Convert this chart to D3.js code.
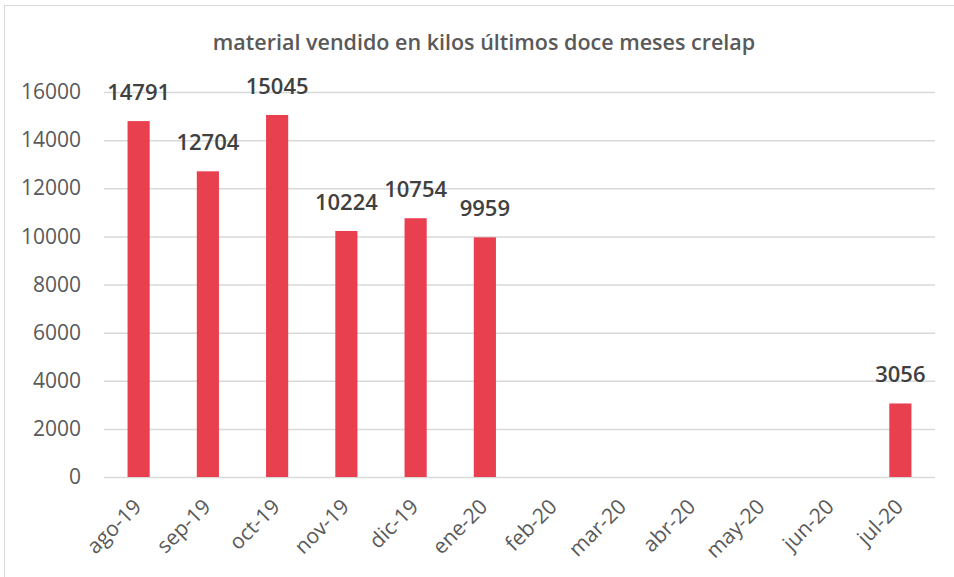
<!DOCTYPE html>
<html>
<head>
<meta charset="utf-8">
<script src="https://cdn.jsdelivr.net/npm/d3@7"></script>
<style>
  html, body { margin: 0; padding: 0; background: #fff; }
  svg { display: block; }
</style>
</head>
<body>
<script>
const title = "material vendido en kilos últimos doce meses crelap";
const categories = ["ago-19","sep-19","oct-19","nov-19","dic-19","ene-20","feb-20","mar-20","abr-20","may-20","jun-20","jul-20"];
const values = [14791, 12704, 15045, 10224, 10754, 9959, null, null, null, null, null, 3056];
const yTicks = [0, 2000, 4000, 6000, 8000, 10000, 12000, 14000, 16000];

const W = 954, H = 577;
const margin = {left: 104, right: 19, top: 92, bottom: 100};
const font = "'Open Sans', Lato, sans-serif";

const svg = d3.select("body").append("svg").attr("width", W).attr("height", H);

svg.append("rect").attr("x", 4.5).attr("y", 5.5).attr("width", W + 20).attr("height", H + 20)
  .attr("fill", "#fff").attr("stroke", "#d9d9d9").attr("stroke-width", 1);

const x = d3.scaleBand().domain(categories).range([margin.left, W - margin.right]).paddingInner(0.68).paddingOuter(0.34);
const y = d3.scaleLinear().domain([0, 16000]).range([H - margin.bottom, margin.top]);

// gridlines
const yAxis = d3.axisLeft(y).tickValues(yTicks).tickSize(-(W - margin.right - margin.left)).tickPadding(23).tickFormat(d3.format("d"));
const gy = svg.append("g").attr("transform", `translate(${margin.left},0)`).call(yAxis);
gy.select(".domain").remove();
gy.selectAll(".tick line").attr("stroke", "#d9d9d9").attr("stroke-width", 1.5);
gy.selectAll(".tick text").attr("fill", "#595959").style("font-family", font).style("font-size", "21px");

// bars
svg.append("g").selectAll("rect").data(categories.map((c, i) => ({c, v: values[i]})).filter(d => d.v != null))
  .join("rect")
  .attr("x", d => x(d.c)).attr("width", x.bandwidth())
  .attr("y", d => y(d.v)).attr("height", d => y(0) - y(d.v))
  .attr("fill", "#e8404f");

// value labels
svg.append("g").selectAll("text").data(categories.map((c, i) => ({c, v: values[i]})).filter(d => d.v != null))
  .join("text")
  .attr("x", d => x(d.c) + x.bandwidth() / 2)
  .attr("y", d => y(d.v) - 21)
  .attr("text-anchor", "middle")
  .attr("fill", "#404040")
  .style("font-family", font).style("font-size", "22px").style("font-weight", "600")
  .text(d => d.v);

// x axis
const xAxis = d3.axisBottom(x).tickSize(0).tickPadding(0);
const gx = svg.append("g").attr("transform", `translate(0,${y(0)})`).call(xAxis);
gx.select(".domain").remove();
gx.selectAll(".tick text")
  .attr("fill", "#595959")
  .style("font-family", font).style("font-size", "21px")
  .attr("text-anchor", "end")
  .attr("dy", null).attr("y", null)
  .attr("transform", "translate(4,31) rotate(-45)");

// title
svg.append("text").attr("x", 484).attr("y", 50).attr("text-anchor", "middle")
  .attr("fill", "#595959").style("font-family", font).style("font-size", "21.5px").style("font-weight", "600")
  .text(title);
</script>
</body>
</html>
